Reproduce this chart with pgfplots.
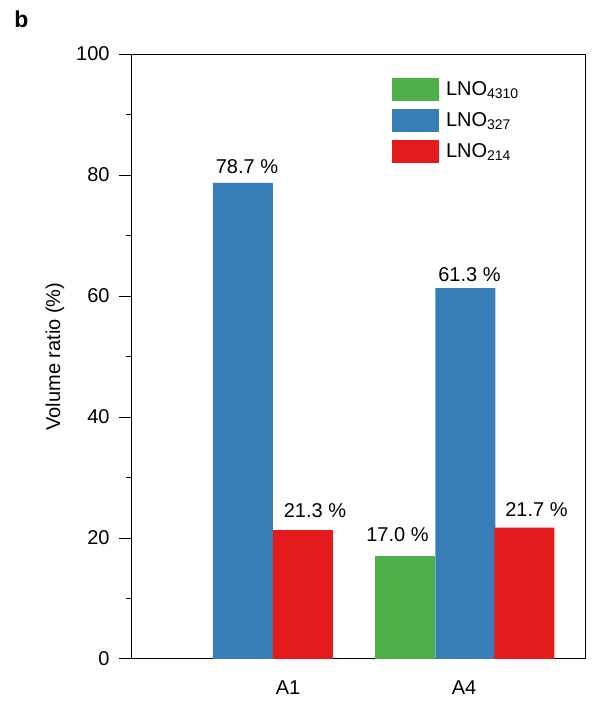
\documentclass[border=0pt]{standalone}
\usepackage{fontspec}
\setmainfont{Liberation Sans}
\usepackage{pgfplots}
\pgfplotsset{compat=1.18}
\definecolor{cGreen}{RGB}{77,175,74}
\definecolor{cBlue}{RGB}{55,126,184}
\definecolor{cRed}{RGB}{228,26,28}

\begin{document}
\begin{tikzpicture}
\useasboundingbox (0,0) rectangle (296.5pt,354.5pt);
\node[anchor=base west, inner sep=0pt, font=\bfseries\fontsize{11.5pt}{13pt}\selectfont] at (7pt,341pt) {b};
\begin{axis}[
  at={(66pt,25pt)}, anchor=south west,
  scale only axis, width=227pt, height=302.5pt,
  /pgf/number format/assume math mode=true,
  xmin=132, xmax=586, ymin=0, ymax=100,
  axis line style={line width=0.5pt},
  ytick={0,20,...,100}, minor ytick={10,30,...,90},
  ytick pos=left, tick align=outside,
  major tick length=6.5pt, minor tick length=3pt,
  tick style={black, line width=0.5pt},
  xtick={288,464}, xticklabels={A1,A4},
  major x tick style={draw=none},
  xticklabel style={yshift=-0.7pt},
  yticklabel style={xshift=-1.2pt},
  ylabel={Volume ratio (\%)},
  every axis y label/.style={at={(axis description cs:-0.1696,0.5)}, rotate=90, anchor=center},
  legend style={at={(axis description cs:0.5727,0.9603)}, anchor=north west,
    draw=none, fill=none, inner sep=0pt, row sep=4pt, column sep=1.3pt,
    nodes={inner xsep=2pt, inner ysep=0pt, text height=8.5pt, text depth=3pt}},
  legend cell align=left,
  ybar,
  every axis plot/.append style={draw=none, bar width=60, bar shift=0pt,
    legend image code/.code={\fill[##1] (0pt,-5.75pt) rectangle (23.5pt,5.75pt);},
    nodes near coords={\pgfmathprintnumber[fixed,fixed zerofill,precision=1]{\pgfplotspointmeta}\ \%},
    visualization depends on={\thisrow{dy} \as \dy},
    every node near coord/.append style={anchor=base, inner sep=0pt, text=black,
      yshift=\dy pt}},
]
% LNO4310
\addplot[fill=cGreen, every node near coord/.append style={xshift=-4pt}] table {
x     y    dy
405.5 17.0 7.5
};
\addlegendentry{LNO\textsubscript{4310}}
% LNO327
\addplot[fill=cBlue, every node near coord/.append style={xshift=2pt}] table {
x     y    dy
243   78.7 4.5
465.5 61.3 3.5
};
\addlegendentry{LNO\textsubscript{327}}
% LNO214
\addplot[fill=cRed, every node near coord/.append style={xshift=6pt}] table {
x     y    dy
303   21.3 6.5
524.5 21.7 5.5
};
\addlegendentry{LNO\textsubscript{214}}
\end{axis}
\end{tikzpicture}
\end{document}
